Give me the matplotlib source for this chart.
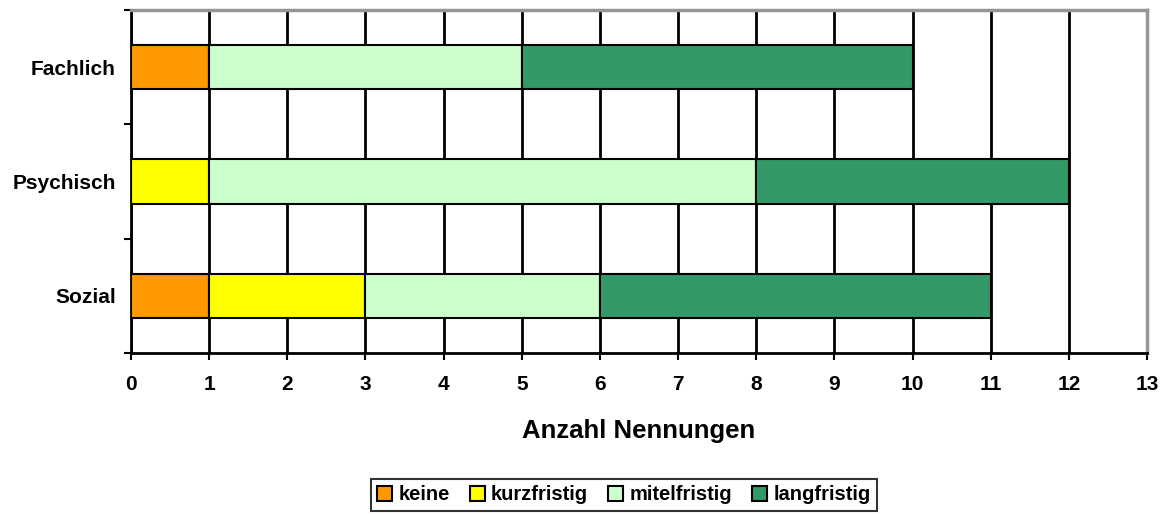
import numpy as np
import matplotlib.pyplot as plt
from matplotlib.ticker import FixedLocator

# data (bottom to top)
categories = ['Sozial', 'Psychisch', 'Fachlich']
keine = [1, 0, 1]
kurzfristig = [2, 1, 0]
mitelfristig = [3, 7, 4]
langfristig = [5, 4, 5]

series = [('keine', keine, '#FF9900'),
          ('kurzfristig', kurzfristig, '#FFFF00'),
          ('mitelfristig', mitelfristig, '#CCFFCC'),
          ('langfristig', langfristig, '#339966')]

plt.rcParams['font.family'] = ['Liberation Sans', 'DejaVu Sans']
plt.rcParams['font.weight'] = 'bold'

fig = plt.figure(figsize=(11.68, 5.15), dpi=100)
ax = fig.add_axes([131/1168, 1 - 353/515, 1016/1168, 343/515])

y = np.arange(len(categories))
left = np.zeros(len(categories))
handles = []
for name, vals, col in series:
    vals = np.array(vals, dtype=float)
    b = ax.barh(y, vals, left=left, height=0.39, color=col,
                edgecolor='black', linewidth=1.5, label=name, zorder=3)
    handles.append(b)
    left += vals

ax.set_xlim(0, 13)
ax.set_ylim(-0.5, 2.5)
ax.set_xticks(range(0, 14))
ax.xaxis.grid(True, color='black', linewidth=2, zorder=1)
ax.set_axisbelow(True)

ax.set_yticks(y)
ax.set_yticklabels(categories, fontsize=15, fontweight='bold')
ax.yaxis.set_minor_locator(FixedLocator([-0.5, 0.5, 1.5, 2.5]))
ax.tick_params(axis='y', which='major', length=0, pad=11)
ax.tick_params(axis='y', which='minor', length=5, width=1.5, direction='out')
ax.tick_params(axis='x', which='major', length=5, width=1.5, direction='out',
               labelsize=15, pad=11)
for lbl in ax.get_xticklabels():
    lbl.set_fontweight('bold')

ax.set_xlabel('Anzahl Nennungen', fontsize=18.5, fontweight='bold', labelpad=18)

for s in ['left', 'bottom']:
    ax.spines[s].set_color('black')
    ax.spines[s].set_linewidth(2)
for s in ['top', 'right']:
    ax.spines[s].set_color('#959595')
    ax.spines[s].set_linewidth(2.5)

leg = fig.legend(handles=handles, loc='center', bbox_to_anchor=(624/1168, 1 - 495/515),
                 ncol=4, fontsize=14.5, frameon=True, fancybox=False,
                 handlelength=0.75, handleheight=0.75, handletextpad=0.3,
                 columnspacing=1.0, borderpad=0.3, borderaxespad=0)
leg.get_frame().set_edgecolor('black')
leg.get_frame().set_linewidth(1.5)
for t in leg.get_texts():
    t.set_fontweight('bold')

fig.savefig('out.png', dpi=100)
